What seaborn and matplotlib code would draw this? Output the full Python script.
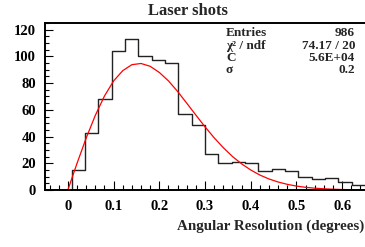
import numpy as np
import pandas as pd
import seaborn as sns
import matplotlib.pyplot as plt
from matplotlib.ticker import MultipleLocator

# histogram: 24 bins from -0.05 to 0.65, counts
bin_edges = list(np.linspace(-0.05, 0.65, 25))
counts = [0, 0, 15, 43, 68, 104, 113, 100, 97, 95, 57, 49,
          27, 20, 21, 20, 14, 16, 14, 10, 8, 9, 6, 4]

# fitted curve (red)
curve_x = [0.0, 0.02, 0.04, 0.06, 0.08, 0.10, 0.12, 0.14, 0.16, 0.18, 0.20,
           0.22, 0.24, 0.26, 0.28, 0.30, 0.32, 0.34, 0.36, 0.38, 0.40, 0.42,
           0.44, 0.46, 0.48, 0.50, 0.52, 0.54, 0.56, 0.58, 0.60, 0.62, 0.64]
curve_y = [0.0, 19.9, 38.8, 55.8, 70.3, 81.6, 89.3, 93.8, 94.7, 92.6, 88.0,
           81.7, 73.8, 65.0, 56.1, 47.3, 39.1, 31.7, 25.1, 19.6, 15.0, 11.2,
           8.25, 5.97, 4.24, 2.94, 2.01, 1.35, 0.89, 0.58, 0.37, 0.23, 0.14]

stat_names = ["Entries", "\u03c7\u00b2 / ndf", "C", "\u03c3"]
stat_values = ["986", "74.17 / 20", "5.6E+04", "0.2"]

sns.set_style("ticks")
plt.rcParams["font.family"] = ["Liberation Serif", "DejaVu Serif"]
plt.rcParams["font.weight"] = "bold"

W, H = 365, 247
fig = plt.figure(figsize=(W / 100, H / 100), dpi=100)
ax = fig.add_axes([45 / W, 1 - 190 / H, 320 / W, 167 / H])

centers = [(a + b) / 2 for a, b in zip(bin_edges[:-1], bin_edges[1:])]
hist_df = pd.DataFrame({"x": centers, "n": counts})
sns.histplot(data=hist_df, x="x", weights="n", bins=bin_edges, element="step",
             fill=False, color="#222222", linewidth=1.0, ax=ax)
sns.lineplot(x=curve_x, y=curve_y, color="red", linewidth=0.9, ax=ax)

ax.set_xlim(-0.05, 0.65)
ax.set_ylim(0, 125)
ax.set_xlabel("")
ax.set_ylabel("")

ax.xaxis.set_major_locator(MultipleLocator(0.1))
ax.xaxis.set_minor_locator(MultipleLocator(0.02))
ax.yaxis.set_major_locator(MultipleLocator(20))
ax.yaxis.set_minor_locator(MultipleLocator(5))
ax.tick_params(which="both", direction="in", width=0.8, colors="black", labelsize=10.5)
ax.tick_params(axis="x", which="major", length=6.5, pad=7)
ax.tick_params(axis="x", which="minor", length=3.5)
ax.tick_params(axis="y", which="major", length=6, pad=6.5)
ax.tick_params(axis="y", which="minor", length=3.2)
ax.set_xticks(ax.get_xticks())
ax.set_xticklabels(["0" if abs(t) < 1e-9 else f"{t:g}" for t in ax.get_xticks()])
ax.set_xlim(-0.05, 0.65)
for lab in ax.get_xticklabels() + ax.get_yticklabels():
    lab.set_fontweight("bold")

for side in ["left", "bottom", "top"]:
    ax.spines[side].set_linewidth(1.4)
    ax.spines[side].set_color("black")
ax.spines["right"].set_visible(False)

fig.text(188 / W, 1 - 15 / H, "Laser shots", ha="center", va="baseline",
         fontsize=12, fontweight="bold")
fig.text(364 / W, 1 - 230 / H, "Angular Resolution (degrees)", ha="right",
         va="baseline", fontsize=10.8, fontweight="bold")

row_base = [36.5, 49, 61, 73]
for name, val, yb in zip(stat_names, stat_values, row_base):
    fig.text(226 / W, 1 - yb / H, name, ha="left", va="baseline", fontsize=9.5,
             fontweight="bold")
    fig.text(355 / W, 1 - yb / H, val, ha="right", va="baseline", fontsize=9.5,
             fontweight="bold")

fig.savefig("out.png", dpi=100)
